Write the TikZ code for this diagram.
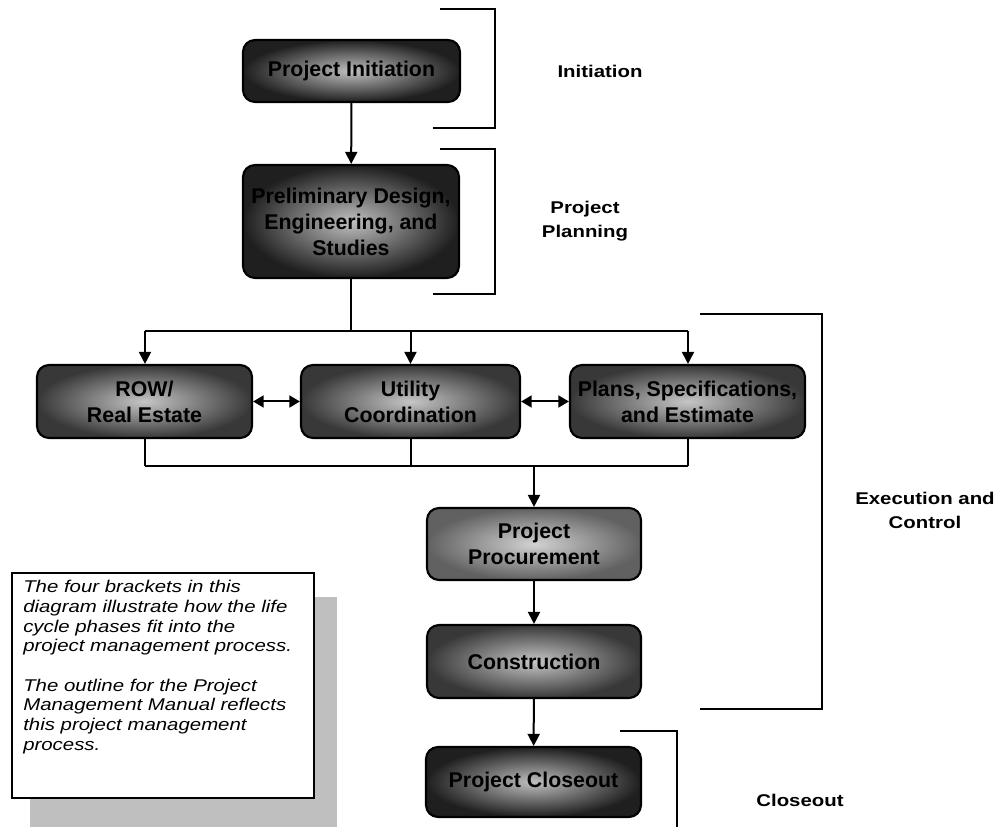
\documentclass[tikz,border=0pt]{standalone}
\usepackage{fontspec}
\setmainfont{Liberation Sans}
\newfontfamily\widefont[FakeStretch=1.2]{Liberation Sans}
\usetikzlibrary{arrows.meta}
\begin{document}
\begin{tikzpicture}[x=0.75pt,y=-0.75pt,
  pbox/.style={draw=black, line width=1.6pt, rounded corners=9pt, align=center,
    inner sep=2pt, font=\bfseries\fontsize{16}{19.5}\selectfont,
    inner color=gray!45, outer color=black!78},
  darkbox/.style={pbox, inner color=gray!50, outer color=black!88},
  lightbox/.style={pbox, inner color=gray!35, outer color=black!62},
  ln/.style={line width=1.5pt},
  arr/.style={line width=1.5pt, -{Triangle[length=9pt,width=9pt]}},
  darr/.style={line width=1.5pt, {Triangle[length=8pt,width=9pt]}-{Triangle[length=8pt,width=9pt]}},
  brk/.style={line width=1.1pt},
  phase/.style={align=center, font=\widefont\bfseries\fontsize{12.75}{18}\selectfont}
]
\useasboundingbox (0,0) rectangle (997,827);

% process boxes
\node[darkbox, minimum width=162.75pt, minimum height=46.5pt] (init) at (351.5,71) {Project Initiation};
\node[darkbox, minimum width=162pt, minimum height=84.75pt] (prelim) at (351,221.5) {Preliminary Design,\\Engineering, and\\Studies};
\node[pbox, minimum width=161.25pt, minimum height=54.75pt] (row) at (144.5,401.5) {ROW/\\Real Estate};
\node[pbox, minimum width=164.25pt, minimum height=54.75pt] (util) at (410.5,401.5) {Utility\\Coordination};
\node[pbox, minimum width=176.25pt, minimum height=54.75pt] (plans) at (687.5,401.5) {Plans, Specifications,\\and Estimate};
\node[lightbox, minimum width=160.5pt, minimum height=54pt] (proc) at (534,544) {Project\\Procurement};
\node[pbox, minimum width=160.5pt, minimum height=54.75pt] (cons) at (534,661.5) {Construction};
\node[darkbox, minimum width=161.25pt, minimum height=52.5pt] (close) at (533.5,782) {Project Closeout};

% connectors
\coordinate (tl) at (145,331);
\coordinate (tr) at (688,331);
\coordinate (bl) at (145,466);
\coordinate (br) at (688,466);
\draw[arr] (init) -- (prelim);
\draw[ln] (prelim.south) -- (prelim.south |- tl);
\draw[ln] (tl) -- (tr);
\draw[arr] (tl) -- (tl |- row.north);
\draw[arr] (util.north |- tl) -- (util.north);
\draw[arr] (tr) -- (tr |- plans.north);
\draw[darr] (row.east) -- (util.west);
\draw[darr] (util.east) -- (plans.west);
\draw[ln] (row.south -| bl) -- (bl);
\draw[ln] (util.south) -- (util.south |- bl);
\draw[ln] (plans.south -| br) -- (br);
\draw[ln] (bl) -- (br);
\draw[arr] (proc.north |- bl) -- (proc.north);
\draw[arr] (proc) -- (cons);
\draw[arr] (cons) -- (close);

% brackets
\draw[brk] (440,9) -- (495,9) -- (495,128) -- (433,128);
\draw[brk] (440,149) -- (495,149) -- (495,294) -- (433,294);
\draw[brk] (700,314) -- (822,314) -- (822,709) -- (700,709);
\draw[brk] (620,731) -- (677,731) -- (677,827);

% phase labels
\node[phase] (lInit) at (600,71) {Initiation};
\node[phase] (lPlan) at (585,221) {Project\\Planning};
\node[phase] (lExec) at (925,510) {Execution and\\Control};
\node[phase] (lClose) at (800,800) {Closeout};

% note box with shadow
\fill[gray!50] (30,597) rectangle (337,827);
\node[draw=black, line width=1.5pt, fill=white, minimum width=226.5pt, minimum height=168.75pt, anchor=north west] (notebox) at (11,572) {};
\node[anchor=north west, align=left, inner sep=0pt, font=\widefont\itshape\fontsize{12.75}{14.8}\selectfont] (note) at (23,580)
{The four brackets in this\\diagram illustrate how the life\\cycle phases fit into the\\project management process.\\[14.8pt]The outline for the Project\\Management Manual reflects\\this project management\\process.};
\end{tikzpicture}
\end{document}
